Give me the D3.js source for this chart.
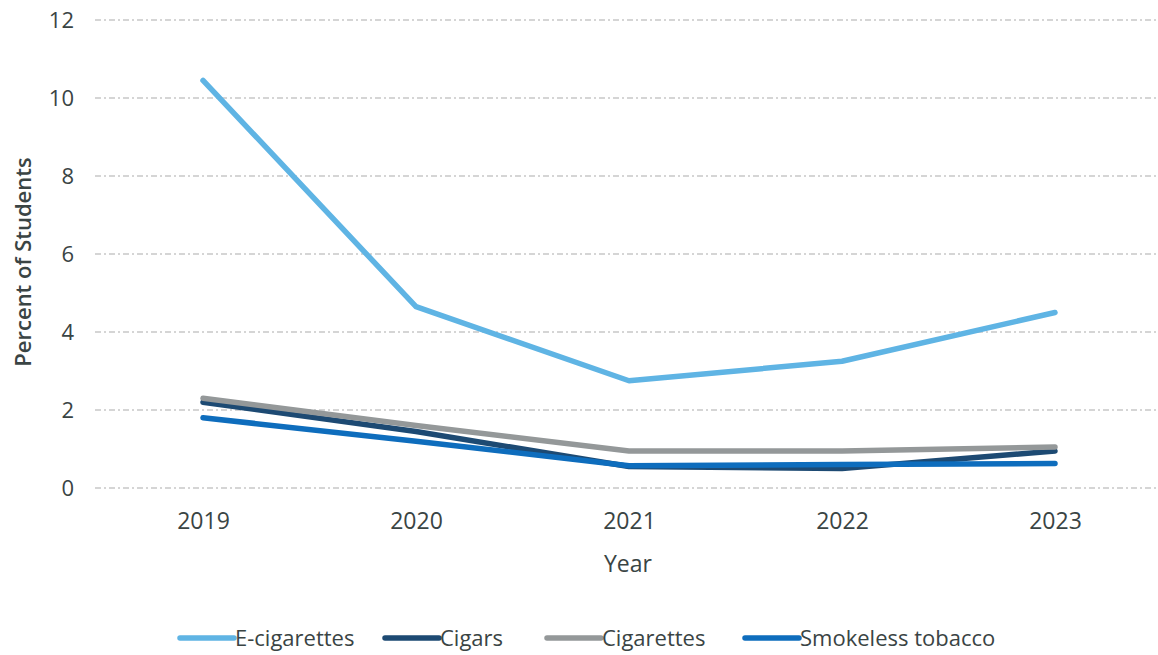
<!DOCTYPE html>
<html><head><meta charset="utf-8">
<script src="https://cdn.jsdelivr.net/npm/d3@7"></script>
<style>
body{margin:0;background:#fff;}
text{fill:#3a4444;}
</style></head>
<body>
<svg id="c" width="1158" height="655"></svg>
<script>
const years = ["2019","2020","2021","2022","2023"];
const yTicks = [0,2,4,6,8,10,12];
const seriesNames = ["E-cigarettes","Cigars","Cigarettes","Smokeless tobacco"];
const eCigarettes = [10.45, 4.65, 2.75, 3.25, 4.5];
const cigars = [2.2, 1.45, 0.55, 0.5, 0.95];
const cigarettes = [2.3, 1.6, 0.95, 0.95, 1.05];
const smokeless = [1.8, 1.2, 0.57, 0.6, 0.63];
const colors = ["#5FB4E4","#1D4A73","#949899","#0E6DBD"];

const svg = d3.select("#c");
const x = d3.scalePoint().domain(years).range([203,1055]);
const y = d3.scaleLinear().domain([0,12]).range([488,20]);
const font = "'Open Sans',sans-serif";

// gridlines
svg.append("g").selectAll("line").data(yTicks).join("line")
  .attr("x1",95).attr("x2",1158)
  .attr("y1",d=>y(d)).attr("y2",d=>y(d))
  .attr("stroke","#c8c8c8").attr("stroke-width",1.5)
  .attr("stroke-dasharray","6,3,2,3");

// y axis labels
const yAxis = svg.append("g").attr("transform","translate(78,0)")
  .call(d3.axisLeft(y).tickValues(yTicks).tickSize(0).tickPadding(4));
yAxis.select(".domain").remove();
yAxis.selectAll("text").attr("font-family",font).attr("font-size",22).attr("fill","#3a4444");

// x axis labels
const xAxis = svg.append("g").attr("transform","translate(0,510)")
  .call(d3.axisBottom(x).tickSize(0).tickPadding(3));
xAxis.select(".domain").remove();
xAxis.selectAll("text").attr("font-family",font).attr("font-size",23).attr("fill","#3a4444");

// axis titles
svg.append("text").attr("x",628).attr("y",572).attr("text-anchor","middle")
  .attr("font-family",font).attr("font-size",23).text("Year");
svg.append("text").attr("transform","translate(31,262) rotate(-90)").attr("text-anchor","middle")
  .attr("font-family",font).attr("font-size",22).attr("font-weight",600).text("Percent of Students");

// lines
const data = [eCigarettes, cigars, cigarettes, smokeless];
const line = d3.line().x((d,i)=>x(years[i])).y(d=>y(d));
[0,1,2,3].forEach(k=>{
  svg.append("path").datum(data[k]).attr("d",line)
    .attr("fill","none").attr("stroke",colors[k]).attr("stroke-width",5.5)
    .attr("stroke-linejoin","round").attr("stroke-linecap","round");
});

// legend
const legendX = [180, 385, 547, 745];
const lg = svg.append("g").attr("transform","translate(0,638)");
seriesNames.forEach((n,i)=>{
  lg.append("line").attr("x1",legendX[i]).attr("x2",legendX[i]+54).attr("y1",0).attr("y2",0)
    .attr("stroke",colors[i]).attr("stroke-width",5.5).attr("stroke-linecap","round");
  lg.append("text").attr("x",legendX[i]+55).attr("y",8).attr("font-family",font).attr("font-size",22)
    .attr("textLength", null).text(n);
});
</script>
</body></html>
